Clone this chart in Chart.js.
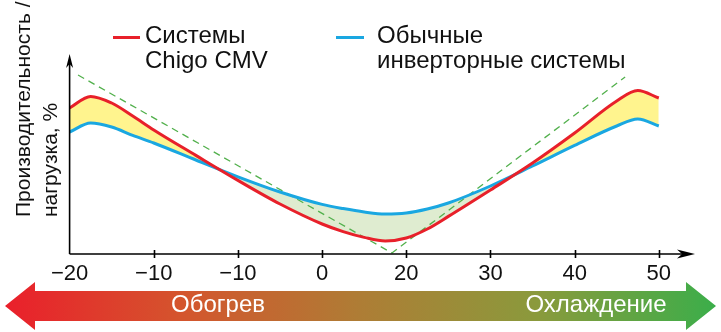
<!DOCTYPE html>
<html>
<head>
<meta charset="utf-8">
<script src="https://cdn.jsdelivr.net/npm/chart.js@4.4.1/dist/chart.umd.min.js"></script>
<style>
  body { margin: 0; background: #fff; font-family: "Liberation Sans", Arial, sans-serif; }
  #wrap { position: relative; width: 721px; height: 332px; overflow: hidden; }
  #chart { position: absolute; left: 0; top: 0; }
  .leg { position: absolute; font-size: 24px; line-height: 25px; color: #111; white-space: nowrap; }
  .swatch { position: absolute; height: 3px; }
  #ytitle { position: absolute; left: 9px; top: 217px; width: 260px; transform-origin: 0 0; transform: rotate(-90deg);
            font-size: 21px; line-height: 27px; color: #111; white-space: nowrap; }
  #band { position: absolute; left: 5px; top: 282px; width: 711px; height: 48px;
          background: linear-gradient(90deg, #ea1f2b 0%, #d4552d 25%, #ae7d35 50%, #8a9a3c 75%, #3bae4a 100%);
          clip-path: polygon(0 50%, 30px 0, 30px 9px, calc(100% - 30px) 9px, calc(100% - 30px) 0, 100% 50%,
                             calc(100% - 30px) 100%, calc(100% - 30px) 39px, 30px 39px, 30px 100%); }
  .bandtxt { position: absolute; top: 290px; font-size: 24px; line-height: 28px; color: #fff; transform: translateX(-50%); white-space: nowrap; }
</style>
</head>
<body>
<div id="wrap">
  <canvas id="chart" width="721" height="332"></canvas>
  <div id="ytitle">Производительность /<br>нагрузка, %</div>
  <div class="swatch" style="left:113px; top:36px; width:27px; background:#e8202a"></div>
  <div class="leg" style="left:145px; top:22px">Системы<br>Chigo CMV</div>
  <div class="swatch" style="left:336px; top:36px; width:28px; background:#1aa7e1"></div>
  <div class="leg" style="left:377px; top:22px">Обычные<br>инверторные системы</div>
  <div id="band"></div>
  <div class="bandtxt" style="left:218px">Обогрев</div>
  <div class="bandtxt" style="left:596px">Охлаждение</div>
</div>
<script>
// outdoor temperature positions along the axis
var xTicks = [-20, -10, 0, 10, 20, 30, 40, 50];
var xTickLabels = ['\u221220', '\u221210', '\u221210', '0', '20', '30', '40', '50'];

var temps = [-20, -17.5, -15, -12.5, -10, -5, 0, 5, 10, 12.5, 15, 17.5, 20, 22.5, 25, 30, 35, 40, 45, 47.5, 50];
var chigo = [73, 78.8, 75.5, 69, 62, 49.3, 36.8, 25, 15, 11.2, 8.3, 6.5, 8, 12.5, 18.8, 32, 45.5, 60.5, 76.5, 81.7, 78];
var inverter = [61, 65.5, 63.5, 59.3, 55.5, 47, 38.6, 31, 24.8, 22.7, 21, 20, 20.5, 22.5, 25.5, 34, 44, 54.3, 64, 67.5, 64];

// dashed load line
var loadX = [-19, 18.3, 46];
var loadY = [89.5, 0.5, 88.5];

function pts(xs, ys) {
    return xs.map(function(v, i) { return { x: v, y: ys[i] }; });
}

var axesPlugin = {
    id: 'axes',
    afterDatasetsDraw: function(chart) {
        var ctx = chart.ctx;
        var x = chart.scales.x, y = chart.scales.y;
        var x0 = x.getPixelForValue(-20), y0 = y.getPixelForValue(0);
        var xEnd = x.getPixelForValue(x.max), yEnd = y.getPixelForValue(y.max);
        ctx.save();
        ctx.strokeStyle = '#000';
        ctx.fillStyle = '#000';
        ctx.lineWidth = 1.6;
        ctx.beginPath();
        ctx.moveTo(x0, y0);
        ctx.lineTo(xEnd - 10, y0);
        ctx.moveTo(x0, y0);
        ctx.lineTo(x0, yEnd + 8);
        xTicks.slice(1).forEach(function(v) {
            var px = Math.round(x.getPixelForValue(v)) + 0.5;
            ctx.moveTo(px, y0 - 4);
            ctx.lineTo(px, y0 + 4);
        });
        ctx.stroke();

        ctx.beginPath();
        ctx.moveTo(xEnd, y0);
        ctx.lineTo(xEnd - 18, y0 - 4.5);
        ctx.lineTo(xEnd - 13, y0);
        ctx.lineTo(xEnd - 18, y0 + 4.5);
        ctx.closePath();
        ctx.fill();

        ctx.beginPath();
        ctx.moveTo(x0, yEnd);
        ctx.lineTo(x0 - 3.5, yEnd + 14);
        ctx.lineTo(x0, yEnd + 10);
        ctx.lineTo(x0 + 3.5, yEnd + 14);
        ctx.closePath();
        ctx.fill();
        ctx.restore();
    }
};

document.addEventListener('DOMContentLoaded', function() {
    var ctx = document.getElementById('chart').getContext('2d');

    new Chart(ctx, {
        type: 'line',
        data: {
            datasets: [{
                label: 'Системы Chigo CMV',
                data: pts(temps, chigo),
                borderColor: '#e8202a',
                borderWidth: 3,
                pointRadius: 0,
                cubicInterpolationMode: 'monotone',
                fill: { target: 1, above: '#fff48e', below: '#dfecd0' }
            }, {
                label: 'Обычные инверторные системы',
                data: pts(temps, inverter),
                borderColor: '#1aa7e1',
                borderWidth: 3,
                pointRadius: 0,
                cubicInterpolationMode: 'monotone',
                fill: false
            }, {
                label: 'Нагрузка',
                data: pts(loadX, loadY),
                borderColor: '#52b04c',
                borderWidth: 1.3,
                borderDash: [7, 5],
                pointRadius: 0,
                tension: 0,
                fill: false
            }]
        },
        options: {
            responsive: false,
            animation: false,
            devicePixelRatio: 1,
            layout: { padding: { left: 69.6, right: 26, top: 54, bottom: 0 } },
            scales: {
                x: {
                    type: 'linear',
                    min: -20,
                    max: 54.3,
                    afterBuildTicks: function(s) {
                        s.ticks = xTicks.map(function(v) { return { value: v }; });
                    },
                    afterFit: function(s) { s.height = 78; },
                    grid: { display: false, drawTicks: false },
                    border: { display: false },
                    ticks: {
                        autoSkip: false,
                        maxRotation: 0,
                        padding: 7,
                        color: '#111',
                        font: { size: 22, family: '"Liberation Sans", Arial, sans-serif' },
                        callback: function(v) { return xTickLabels[xTicks.indexOf(v)]; }
                    }
                },
                y: {
                    display: false,
                    min: 0,
                    max: 100
                }
            },
            plugins: {
                legend: { display: false },
                tooltip: { enabled: false },
                filler: { drawTime: 'beforeDatasetsDraw' }
            }
        },
        plugins: [axesPlugin]
    });
});
</script>
</body>
</html>
